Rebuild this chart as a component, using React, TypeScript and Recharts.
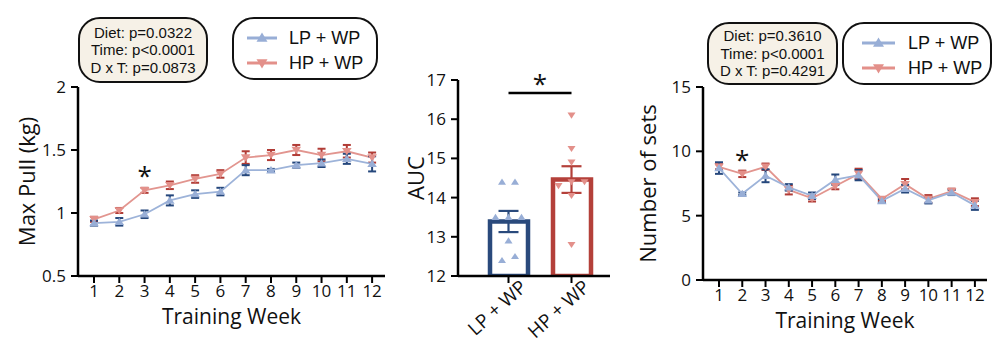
import React from "react";
import {
  Bar,
  Cell,
  ComposedChart,
  ErrorBar,
  Line,
  LineChart,
  ReferenceDot,
  ReferenceLine,
  Scatter,
  XAxis,
  YAxis,
} from "recharts";

// ---- data ----
const weeks = [1, 2, 3, 4, 5, 6, 7, 8, 9, 10, 11, 12];

const pullLP = [0.92, 0.93, 0.99, 1.1, 1.15, 1.17, 1.34, 1.34, 1.38, 1.395, 1.43, 1.39];
const pullLPErr = [0.02, 0.03, 0.03, 0.04, 0.03, 0.03, 0.04, 0.01, 0.02, 0.03, 0.04, 0.06];
const pullHP = [0.95, 1.02, 1.18, 1.22, 1.27, 1.31, 1.44, 1.46, 1.5, 1.46, 1.49, 1.44];
const pullHPErr = [0.02, 0.02, 0.02, 0.03, 0.03, 0.03, 0.05, 0.04, 0.04, 0.05, 0.05, 0.04];

const setsLP = [8.7, 6.7, 8.1, 7.2, 6.55, 7.8, 8.15, 6.15, 7.1, 6.2, 6.8, 5.8];
const setsLPErr = [0.45, 0.1, 0.5, 0.25, 0.25, 0.4, 0.4, 0.15, 0.3, 0.25, 0.2, 0.35];
const setsHP = [8.8, 8.25, 8.8, 7.0, 6.35, 7.3, 8.25, 6.3, 7.45, 6.3, 6.9, 6.05];
const setsHPErr = [0.2, 0.25, 0.25, 0.35, 0.25, 0.25, 0.4, 0.15, 0.4, 0.3, 0.2, 0.3];

const groups = ["LP + WP", "HP + WP"];
const aucLP = [14.4, 14.4, 13.5, 13.5, 13.5, 12.9, 12.4, 12.5];
const aucHP = [16.1, 15.25, 14.9, 14.4, 14.3, 14.4, 14.05, 12.8];
const aucMean = [13.39, 14.46];
const aucSem = [0.27, 0.34];

const pullTicks = [0.5, 1, 1.5, 2];
const setsTicks = [0, 5, 10, 15];
const aucTicks = [12, 13, 14, 15, 16, 17];

const pullStats = ["Diet: p=0.0322", "Time: p<0.0001", "D x T: p=0.0873"];
const setsStats = ["Diet: p=0.3610", "Time: p<0.0001", "D x T: p=0.4291"];

const pullStar = { week: 3, value: 1.33 };
const setsStar = { week: 2, value: 9.7 };
const aucBracket = 16.67;

// ---- styling ----
const LP = { line: "#9db3d9", mark: "#98aed6", err: "#25477c", bar: "#2a4a7c" };
const HP = { line: "#e2958f", mark: "#e3908a", err: "#b13c36", bar: "#b4403a" };
const tickFont = "'Open Sans', sans-serif";
const boxFont = "'Liberation Sans', Arial, sans-serif";
const axisLine = { stroke: "#000", strokeWidth: 2.5 };
const tickLine = { stroke: "#000", strokeWidth: 2 };
const tickStyle = { fill: "#111", fontSize: 17, fontFamily: tickFont };

const pullData = weeks.map((week, i) => ({
  week,
  lp: pullLP[i],
  lpErr: pullLPErr[i],
  hp: pullHP[i],
  hpErr: pullHPErr[i],
}));

const setsData = weeks.map((week, i) => ({
  week,
  lp: setsLP[i],
  lpErr: setsLPErr[i],
  hp: setsHP[i],
  hpErr: setsHPErr[i],
}));

const barData = groups.map((group, i) => ({ group, mean: aucMean[i], sem: aucSem[i] }));

// spread equal-ish values sideways, like a beeswarm
function swarm(group: string, values: number[]) {
  const sorted = values.map((v, i) => ({ v, i })).sort((a, b) => a.v - b.v);
  const slot: number[] = new Array(values.length).fill(0);
  let start = 0;
  for (let j = 1; j <= sorted.length; j++) {
    if (j === sorted.length || sorted[j].v - sorted[j - 1].v > 0.2) {
      const n = j - start;
      for (let m = start; m < j; m++) slot[sorted[m].i] = m - start - (n - 1) / 2;
      start = j;
    }
  }
  return values.map((auc, i) => ({ group, auc, k: slot[i] }));
}

const lpPoints = swarm(groups[0], aucLP);
const hpPoints = swarm(groups[1], aucHP);
const lpMean = [barData[0]];
const hpMean = [barData[1]];

type DotProps = { cx?: number; cy?: number; index?: number; payload?: { k?: number } };

const tri = (dir: 1 | -1, color: string, s: number, spread = 0) => (p: DotProps) => {
  const cy = p.cy;
  const cx = p.cx == null ? null : p.cx + (p.payload?.k ?? 0) * spread;
  if (cx == null || cy == null) return <g key={`n${p.index}`} />;
  const h = s * 0.85;
  const d =
    dir === 1
      ? `M${cx},${cy - h} L${cx + s},${cy + h * 0.8} L${cx - s},${cy + h * 0.8}Z`
      : `M${cx},${cy + h} L${cx + s},${cy - h * 0.8} L${cx - s},${cy - h * 0.8}Z`;
  return <path key={`t${p.index}`} d={d} fill={color} />;
};

const yTitle = (text: string, x: number) => (props: any) => {
  const vb = props.viewBox || {};
  const cy = vb.y + vb.height / 2;
  return (
    <text
      transform={`translate(${x},${cy}) rotate(-90)`}
      textAnchor="middle"
      dominantBaseline="central"
      fontSize={22}
      fontFamily={tickFont}
      fill="#111"
    >
      {text}
    </text>
  );
};

const xTitle = (text: string, baseline: number, shift = 0) => (props: any) => {
  const vb = props.viewBox || {};
  return (
    <text
      x={vb.x + vb.width / 2 + shift}
      y={baseline}
      textAnchor="middle"
      fontSize={21}
      fontFamily={tickFont}
      fill="#111"
    >
      {text}
    </text>
  );
};

const starLabel = (props: any) => {
  const vb = props.viewBox || {};
  const x = vb.x1 != null ? (vb.x1 + vb.x2) / 2 : vb.x + (vb.width || 0) / 2;
  const y = vb.y1 != null ? vb.y1 : vb.y + (vb.height || 0) / 2;
  return (
    <text x={x} y={y + 14} textAnchor="middle" fontSize={26} fontFamily={tickFont} fill="#111">
      *
    </text>
  );
};

const bracketStar = (props: any) => {
  const vb = props.viewBox || {};
  const x = vb.x1 != null ? (vb.x1 + vb.x2) / 2 : vb.x + (vb.width || 0) / 2;
  const y = vb.y1 != null ? vb.y1 : vb.y;
  return (
    <text x={x} y={y} textAnchor="middle" fontSize={26} fontFamily={tickFont} fill="#111">
      *
    </text>
  );
};

const slantTick = (p: any) => (
  <g transform={`translate(${p.x},${p.y})`}>
    <text
      x={0}
      y={0}
      dx={12}
      dy={16}
      transform="rotate(-42)"
      textAnchor="end"
      fontSize={19}
      fontFamily={tickFont}
      fill="#111"
    >
      {p.payload.value}
    </text>
  </g>
);

function StatsBox({ lines, left, top, width, height }: { lines: string[]; left: number; top: number; width: number; height: number }) {
  return (
    <div
      style={{
        position: "absolute",
        left,
        top,
        width,
        height,
        boxSizing: "border-box",
        border: "2px solid #111",
        borderRadius: 22,
        background: "#f6f1e7",
        display: "flex",
        flexDirection: "column",
        justifyContent: "center",
        alignItems: "center",
        fontFamily: boxFont,
        fontSize: 15,
        lineHeight: "17.5px",
        color: "#111",
      }}
    >
      {lines.map((l) => (
        <div key={l}>{l}</div>
      ))}
    </div>
  );
}

function LegendIcon({ dir, color, w }: { dir: 1 | -1; color: string; w: number }) {
  const c = w / 2;
  const s = 5.5;
  const d =
    dir === 1
      ? `M${c},${7 - s} L${c + s},${7 + s * 0.7} L${c - s},${7 + s * 0.7}Z`
      : `M${c},${7 + s} L${c + s},${7 - s * 0.7} L${c - s},${7 - s * 0.7}Z`;
  return (
    <svg width={w} height={14} style={{ position: "absolute", left: 0, top: -7 }}>
      <line x1={0} y1={7} x2={w} y2={7} stroke={color} strokeWidth={3} />
      <path d={d} fill={color} />
    </svg>
  );
}

function LegendBox({ left, top, width, height, iconX, iconW, textX }: { left: number; top: number; width: number; height: number; iconX: number; iconW: number; textX: number }) {
  const rows = [
    { name: groups[0], dir: 1 as const, color: LP.mark, y: 21 },
    { name: groups[1], dir: -1 as const, color: HP.mark, y: height - 17 },
  ];
  return (
    <div
      style={{
        position: "absolute",
        left,
        top,
        width,
        height,
        boxSizing: "border-box",
        border: "2px solid #111",
        borderRadius: 22,
        background: "#fff",
        fontFamily: boxFont,
        fontSize: 18,
        color: "#111",
      }}
    >
      {rows.map((r) => (
        <div key={r.name}>
          <div style={{ position: "absolute", left: iconX - 2, top: r.y - 2 }}>
            <LegendIcon dir={r.dir} color={r.color} w={iconW} />
          </div>
          <div style={{ position: "absolute", left: textX - 2, top: r.y - 2 - 11, lineHeight: "22px", whiteSpace: "nowrap" }}>
            {r.name}
          </div>
        </div>
      ))}
    </div>
  );
}

function WeekChart({
  data,
  left,
  width,
  yWidth,
  top,
  bottom,
  xDomain,
  yDomain,
  yTicks,
  yTitleText,
  yTitleX,
  titleBaseline,
  star,
}: any) {
  return (
    <div style={{ position: "absolute", left, top: 0 }}>
      <LineChart width={width} height={345} data={data} margin={{ top, right: 10, bottom, left: 0 }}>
        <XAxis
          dataKey="week"
          type="number"
          domain={xDomain}
          ticks={weeks}
          allowDataOverflow
          axisLine={axisLine}
          tickLine={tickLine}
          tickSize={7}
          tickMargin={2}
          tick={tickStyle}
          interval={0}
          height={50}
          label={xTitle("Training Week", titleBaseline)}
        />
        <YAxis
          type="number"
          domain={yDomain}
          ticks={yTicks}
          allowDataOverflow
          width={yWidth}
          axisLine={axisLine}
          tickLine={tickLine}
          tickSize={7}
          tickMargin={5}
          tick={tickStyle}
          interval={0}
          label={yTitle(yTitleText, yTitleX)}
        />
        <Line
          dataKey="hp"
          stroke={HP.line}
          strokeWidth={1.8}
          dot={tri(-1, HP.mark, 4.8)}
          activeDot={false}
          isAnimationActive={false}
        >
          <ErrorBar dataKey="hpErr" direction="y" width={4} stroke={HP.err} strokeWidth={2} />
        </Line>
        <Line
          dataKey="lp"
          stroke={LP.line}
          strokeWidth={1.8}
          dot={tri(1, LP.mark, 4.8)}
          activeDot={false}
          isAnimationActive={false}
        >
          <ErrorBar dataKey="lpErr" direction="y" width={4} stroke={LP.err} strokeWidth={2} />
        </Line>
        <ReferenceDot x={star.week} y={star.value} r={1} fill="none" stroke="none" label={starLabel} />
      </LineChart>
    </div>
  );
}

export default function App() {
  return (
    <div
      style={{
        position: "absolute",
        left: 0,
        top: 0,
        width: 1000,
        height: 345,
        overflow: "hidden",
        background: "#fff",
      }}
    >
      {/* Max pull */}
      <WeekChart
        data={pullData}
        left={0}
        width={395}
        yWidth={78}
        top={87}
        bottom={19}
        xDomain={[0.367, 12.51]}
        yDomain={[0.5, 2]}
        yTicks={pullTicks}
        yTitleText="Max Pull (kg)"
        yTitleX={26}
        titleBaseline={324}
        star={pullStar}
      />

      {/* AUC */}
      <div style={{ position: "absolute", left: 390, top: 0 }}>
        <ComposedChart width={230} height={345} data={barData} margin={{ top: 80, right: 10, bottom: 0, left: 0 }}>
          <XAxis
            dataKey="group"
            type="category"
            allowDuplicatedCategory={false}
            padding={{ left: 19, right: 7 }}
            axisLine={axisLine}
            tickLine={tickLine}
            tickSize={7}
            height={69}
            interval={0}
            tick={slantTick}
          />
          <YAxis
            type="number"
            domain={[12, 17]}
            ticks={aucTicks}
            allowDataOverflow
            width={68}
            axisLine={axisLine}
            tickLine={tickLine}
            tickSize={7}
            tickMargin={5}
            tick={tickStyle}
            interval={0}
            label={yTitle("AUC", 25)}
          />
          <Bar dataKey="mean" barSize={38} fill="#fff" strokeWidth={4.5} isAnimationActive={false}>
            {barData.map((d, i) => (
              <Cell key={d.group} stroke={i === 0 ? LP.bar : HP.bar} />
            ))}
          </Bar>
          <Scatter data={lpPoints} dataKey="auc" shape={tri(1, LP.mark, 4, 13)} isAnimationActive={false} />
          <Scatter data={hpPoints} dataKey="auc" shape={tri(-1, HP.mark, 4, 13)} isAnimationActive={false} />
          <Scatter data={lpMean} dataKey="mean" shape={() => <g />} isAnimationActive={false}>
            <ErrorBar dataKey="sem" direction="y" width={10} stroke={LP.bar} strokeWidth={2.2} />
          </Scatter>
          <Scatter data={hpMean} dataKey="mean" shape={() => <g />} isAnimationActive={false}>
            <ErrorBar dataKey="sem" direction="y" width={10} stroke={HP.bar} strokeWidth={2.2} />
          </Scatter>
          <ReferenceLine
            segment={[
              { x: groups[0], y: aucBracket },
              { x: groups[1], y: aucBracket },
            ]}
            stroke="#000"
            strokeWidth={2.5}
            label={bracketStar}
          />
        </ComposedChart>
      </div>

      {/* Number of sets */}
      <WeekChart
        data={setsData}
        left={620}
        width={377}
        yWidth={83}
        top={87}
        bottom={15}
        xDomain={[0.312, 12.52]}
        yDomain={[0, 15]}
        yTicks={setsTicks}
        yTitleText="Number of sets"
        yTitleX={27}
        titleBaseline={328}
        star={setsStar}
      />

      <StatsBox lines={pullStats} left={78} top={17} width={130} height={66} />
      <LegendBox left={232} top={17} width={146} height={63} iconX={15} iconW={30} textX={57} />
      <StatsBox lines={setsStats} left={707} top={22} width={131} height={63} />
      <LegendBox left={842} top={22} width={150} height={63} iconX={20} iconW={33} textX={66} />
    </div>
  );
}
